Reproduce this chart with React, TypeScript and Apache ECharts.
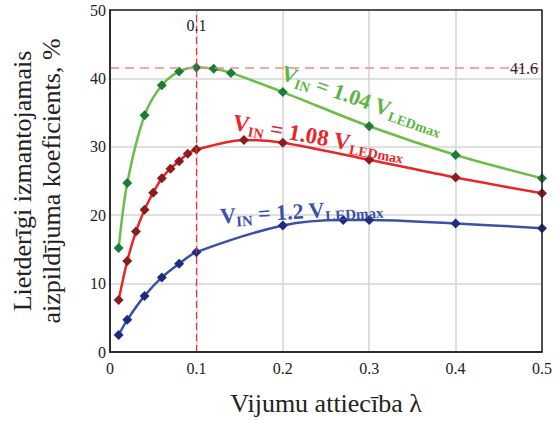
import React, { useEffect, useRef } from "react";
import * as echarts from "echarts";

const greenX = [0.01, 0.02, 0.04, 0.06, 0.08, 0.1, 0.12, 0.14, 0.2, 0.3, 0.4, 0.5];
const greenY = [15.2, 24.7, 34.6, 39.0, 41.0, 41.6, 41.4, 40.8, 38.0, 33.0, 28.8, 25.4];

const redX = [0.01, 0.02, 0.03, 0.04, 0.05, 0.06, 0.07, 0.08, 0.09, 0.1, 0.155, 0.2, 0.3, 0.4, 0.5];
const redY = [7.6, 13.3, 17.6, 20.8, 23.3, 25.4, 26.8, 27.9, 29.0, 29.6, 31.0, 30.6, 28.1, 25.5, 23.2];

const blueX = [0.01, 0.02, 0.04, 0.06, 0.08, 0.1, 0.2, 0.27, 0.3, 0.4, 0.5];
const blueY = [2.5, 4.7, 8.2, 10.9, 12.9, 14.6, 18.5, 19.3, 19.3, 18.8, 18.1];

const markX = 0.1;
const markY = 41.6;

const FONT = "Liberation Serif";

const zip = (xs: number[], ys: number[]) => xs.map((x, i) => [x, ys[i]]);

const richStyles = (main: number, sub: number) => ({
  v: { fontSize: main, fontWeight: "bold", fontFamily: FONT, lineHeight: 28, verticalAlign: "middle" },
  s: { fontSize: sub, fontWeight: "bold", fontFamily: FONT, lineHeight: 14, verticalAlign: "bottom" },
});

export default function App() {
  const ref = useRef<HTMLDivElement>(null);
  useEffect(() => {
    document.body.style.margin = "0";
    const chart = echarts.init(ref.current!, null, { renderer: "svg" });
    const mkSeries = (name: string, data: number[][], line: string, marker: string) => ({
      name,
      type: "line",
      data,
      smooth: 0.3,
      symbol: "diamond",
      symbolSize: 10,
      lineStyle: { color: line, width: 2.5 },
      itemStyle: { color: marker },
      z: 3,
    });
    const option: any = {
      animation: false,
      textStyle: { fontFamily: FONT },
      grid: { left: 108, right: 17, top: 10, bottom: 64 },
      xAxis: {
        type: "value",
        min: 0,
        max: 0.5,
        interval: 0.1,
        name: "Vijumu attiecība λ",
        nameLocation: "middle",
        nameGap: 38,
        nameTextStyle: { fontFamily: FONT, fontSize: 26, color: "#222" },
        axisLine: { show: true, lineStyle: { color: "#222", width: 1.5 } },
        axisTick: { show: false },
        axisLabel: { fontFamily: FONT, fontSize: 16, color: "#222", margin: 8 },
        splitLine: { show: true, lineStyle: { color: "#d4d4d4", width: 1.5 } },
      },
      yAxis: {
        type: "value",
        min: 0,
        max: 50,
        interval: 10,
        name: "Lietderīgi izmantojamais\naizpildījuma koeficients, %",
        nameLocation: "middle",
        nameGap: 44,
        nameRotate: 90,
        nameTextStyle: { fontFamily: FONT, fontSize: 26, color: "#222", lineHeight: 29 },
        axisLine: { show: true, lineStyle: { color: "#222", width: 1.5 } },
        axisTick: { show: false },
        axisLabel: { fontFamily: FONT, fontSize: 16, color: "#222", margin: 4 },
        splitLine: { show: true, lineStyle: { color: "#d4d4d4", width: 1.5 } },
      },
      series: [
        {
          ...mkSeries("1.04", zip(greenX, greenY), "#6cbd45", "#1d7a3a"),
          markLine: {
            symbol: "none",
            silent: true,
            label: { show: false },
            data: [
              { xAxis: markX, lineStyle: { color: "#e8323a", type: [7, 4], width: 1.2 } },
              { yAxis: markY, lineStyle: { color: "#f08a8a", type: [9, 6], width: 1.5 } },
            ],
          },
        },
        mkSeries("1.08", zip(redX, redY), "#e8262a", "#8b1c1c"),
        mkSeries("1.2", zip(blueX, blueY), "#3a52a6", "#1f2b7e"),
      ],
    };
    chart.setOption(option);

    const pTop = chart.convertToPixel({ gridIndex: 0 }, [markX, 50]) as number[];
    const pRight = chart.convertToPixel({ gridIndex: 0 }, [0.5, markY]) as number[];
    const pOrigin = chart.convertToPixel({ gridIndex: 0 }, [0, 0]) as number[];

    const lbl = (text: string, x: number, y: number, rotDeg: number, color: string, main: number, sub: number) => ({
      type: "text",
      x,
      y,
      rotation: (rotDeg * Math.PI) / 180,
      style: {
        text,
        fill: color,
        fontFamily: FONT,
        fontSize: main,
        fontWeight: "bold",
        align: "left",
        verticalAlign: "middle",
        rich: richStyles(main, sub),
      },
      z: 12,
    });

    chart.setOption({
      graphic: [
        {
          type: "rect",
          silent: true,
          shape: { x: pOrigin[0], y: pTop[1], width: pRight[0] - pOrigin[0], height: pOrigin[1] - pTop[1] },
          style: { fill: "none", stroke: "#222", lineWidth: 1.5 },
          z: 10,
        },
        {
          type: "text",
          x: pTop[0],
          y: pTop[1] + 15,
          style: { text: "0.1", fontFamily: FONT, fontSize: 16, fill: "#222", align: "center", verticalAlign: "middle" },
          z: 11,
        },
        {
          type: "text",
          x: pRight[0] - 4,
          y: pRight[1] + 1,
          style: { text: "41.6", fontFamily: FONT, fontSize: 16, fill: "#222", align: "right", verticalAlign: "middle" },
          z: 11,
        },
        lbl("{v|V}{s|IN}{v| = 1.04 V}{s|LEDmax}", 282, 72, -19, "#5cb544", 22, 14),
        lbl("{v|V}{s|IN}{v| = 1.08 V}{s|LEDmax}", 233, 122, -10, "#e8262a", 23, 14),
        lbl("{v|V}{s|IN}{v| = 1.2 V}{s|LEDmax}", 220, 216, 3.5, "#3a52a6", 22, 15),
      ],
    });
    return () => chart.dispose();
  }, []);
  return <div ref={ref} style={{ width: 559, height: 421 }} />;
}
